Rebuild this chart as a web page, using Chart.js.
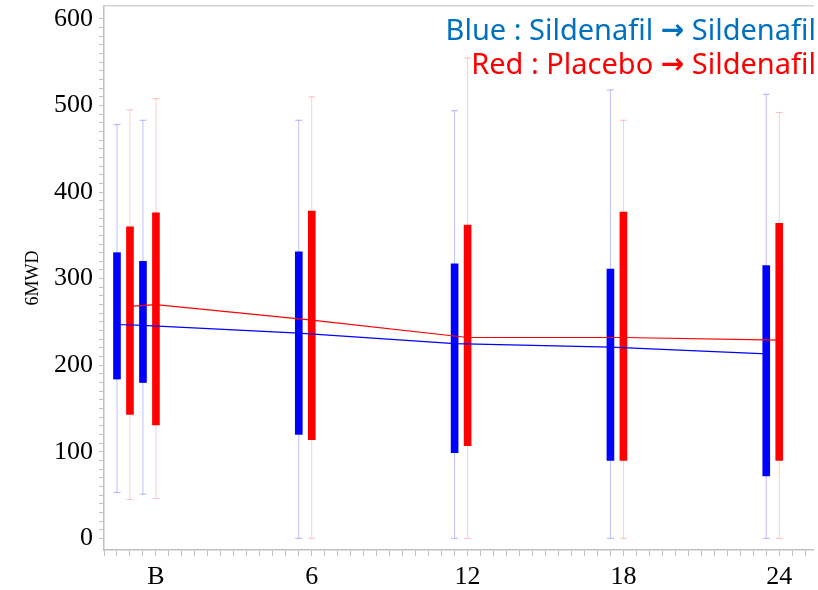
<!DOCTYPE html>
<html>
<head>
<meta charset="utf-8">
<script src="https://cdn.jsdelivr.net/npm/chart.js@4.4.1/dist/chart.umd.min.js"></script>
<style>
  html, body { margin: 0; padding: 0; background: #fff; }
  #wrap { width: 818px; height: 590px; }
</style>
</head>
<body>
<div id="wrap"><canvas id="mwdChart" width="818" height="590"></canvas></div>
<script>
'use strict';

// Visit positions (months); the two baseline boxes sit left of 0
const xTickValues = [0, 6, 12, 18, 24];
const xTickLabels = ['B', '6', '12', '18', '24'];
const yTickValues = [0, 100, 200, 300, 400, 500, 600];

// Blue : Sildenafil -> Sildenafil
const blueX    = [-1.5, -0.5, 5.5, 11.5, 17.5, 23.5];
const blueMin  = [53, 51, 0, 0, 0, 0];
const blueQ1   = [184, 180, 120, 99, 90, 72];
const blueQ3   = [330, 320, 331, 317, 311, 315];
const blueMax  = [478, 483, 483, 494, 518, 513];
const blueMean = [247, 246, 237, 225, 221, 213];

// Red : Placebo -> Sildenafil
const redX    = [-1, 0, 6, 12, 18, 24];
const redMin  = [45, 46, 0, 0, 0, 0];
const redQ1   = [143, 131, 114, 107, 90, 90];
const redQ3   = [360, 376, 378, 362, 377, 364];
const redMax  = [495, 508, 510, 555, 483, 492];
const redMean = [268, 270, 252, 232, 232, 229];

// each note line: [before arrow, after arrow]
const noteLines = [
  { parts: ['Blue : Sildenafil ', ' Sildenafil'], color: '#0070c0' },
  { parts: ['Red : Placebo ', ' Sildenafil'],     color: '#ff0000' }
];

const BLUE = '#0000ff';
const RED  = '#ff0000';
const AXIS_GREY = '#c0c0c0';

// min/max whiskers as separate segments, split by null gaps
function whiskers(xs, lo, hi) {
  const pts = [];
  xs.forEach((x, i) => {
    pts.push({ x, y: lo[i] }, { x, y: hi[i] }, { x, y: null });
  });
  return pts;
}

const boxes  = (xs, q1, q3) => xs.map((x, i) => ({ x, y: [q1[i], q3[i]] }));
const points = (xs, ys) => xs.map((x, i) => ({ x, y: ys[i] }));

// two coloured note lines in the upper right corner, arrow in a heavier face
const notePlugin = {
  id: 'groupNote',
  afterDraw(chart) {
    const { ctx, chartArea } = chart;
    const textFont  = '29px "Noto Sans", sans-serif';
    const arrowFont = 'bold 28px "DejaVu Sans", sans-serif';
    const arrow = '\u2192';
    ctx.save();
    ctx.textAlign = 'left';
    ctx.textBaseline = 'alphabetic';
    noteLines.forEach((l, i) => {
      ctx.font = textFont;
      const w1 = ctx.measureText(l.parts[0]).width;
      const w3 = ctx.measureText(l.parts[1]).width;
      ctx.font = arrowFont;
      const w2 = ctx.measureText(arrow).width;
      const y = 40 + i * 34;
      let x = chartArea.right + 3 - (w1 + w2 + w3);
      ctx.fillStyle = l.color;
      ctx.font = textFont;
      ctx.fillText(l.parts[0], x, y);
      x += w1;
      ctx.font = arrowFont;
      ctx.fillText(arrow, x, y - 1);
      x += w2;
      ctx.font = textFont;
      ctx.fillText(l.parts[1], x, y);
    });
    ctx.restore();
  }
};

const serif = { family: '"Liberation Serif", "Times New Roman", serif', size: 26 };

new Chart(document.getElementById('mwdChart'), {
  type: 'bar',
  data: {
    datasets: [
      {
        type: 'line', data: whiskers(blueX, blueMin, blueMax),
        borderColor: 'rgba(0,0,255,.25)', borderWidth: 1,
        pointStyle: 'line', pointRadius: 3.5, pointBorderWidth: 1,
        pointBorderColor: 'rgba(0,0,255,.3)', spanGaps: false, order: 3
      },
      {
        type: 'line', data: whiskers(redX, redMin, redMax),
        borderColor: 'rgba(255,0,0,.2)', borderWidth: 1,
        pointStyle: 'line', pointRadius: 3.5, pointBorderWidth: 1,
        pointBorderColor: 'rgba(255,0,0,.25)', spanGaps: false, order: 3
      },
      { data: boxes(blueX, blueQ1, blueQ3), backgroundColor: BLUE, barThickness: 7, grouped: false, order: 2 },
      { data: boxes(redX, redQ1, redQ3),    backgroundColor: RED,  barThickness: 7, grouped: false, order: 2 },
      {
        type: 'line', data: points(blueX, blueMean),
        borderColor: BLUE, borderWidth: 1.2, pointRadius: 0, order: 1
      },
      {
        type: 'line', data: points(redX, redMean),
        borderColor: RED, borderWidth: 1.2, pointRadius: 0, order: 1
      }
    ]
  },
  options: {
    responsive: false,
    animation: false,
    events: [],
    layout: { padding: { top: 6, right: 0, bottom: 0, left: 0 } },
    plugins: { legend: { display: false }, tooltip: { enabled: false } },
    scales: {
      x: {
        type: 'linear', min: -2, max: 25.3, offset: false,
        grid: { display: true, offset: false, drawOnChartArea: false, tickLength: 6, tickColor: AXIS_GREY },
        border: { color: AXIS_GREY, width: 1.5 },
        ticks: {
          stepSize: 0.5, includeBounds: false, autoSkip: false, maxRotation: 0,
          color: '#000', font: serif, padding: 6,
          callback: v => {
            const i = xTickValues.indexOf(v);
            return i >= 0 ? xTickLabels[i] : '';
          }
        },
        afterFit: s => { s.height = 40; s.paddingLeft = 0; s.paddingRight = 0; }
      },
      xTop: {
        type: 'linear', position: 'top', min: -2, max: 25.3,
        grid: { display: true, drawOnChartArea: false, drawTicks: false },
        border: { color: '#d4d4d4', width: 1.5 },
        ticks: { display: false },
        afterFit: s => { s.height = 0; s.paddingLeft = 0; s.paddingRight = 0; }
      },
      y: {
        min: -13.5, max: 615,
        grid: {
          display: true, drawOnChartArea: false, tickLength: 5,
          tickColor: c => (c.tick && c.tick.value >= 0 && c.tick.value <= 600) ? AXIS_GREY : 'transparent'
        },
        border: { color: AXIS_GREY, width: 1.5 },
        ticks: {
          stepSize: 10, includeBounds: false, autoSkip: false,
          color: '#000', font: serif, padding: 6,
          callback: v => (yTickValues.includes(v) ? String(v) : '')
        },
        title: {
          display: true, text: '6MWD', color: '#000',
          font: { family: '"Liberation Serif", serif', size: 18 },
          padding: { top: 22, bottom: 0 }
        },
        afterFit: s => { s.width = 104; s.paddingTop = 0; s.paddingBottom = 0; }
      }
    }
  },
  plugins: [notePlugin]
});
</script>
</body>
</html>
